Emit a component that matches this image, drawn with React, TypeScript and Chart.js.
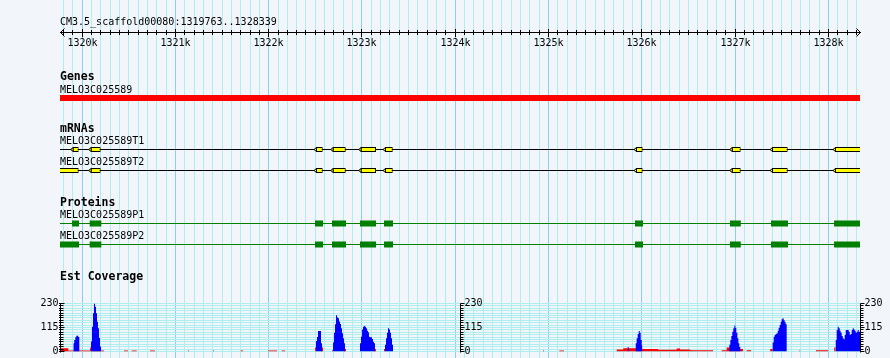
import React, { useEffect, useRef } from 'react';
import { Chart, registerables } from 'chart.js';

Chart.register(...registerables);

// ---------------- data ----------------
const regionStart = 1319763;
const regionEnd = 1328339;
const regionLabel = 'CM3.5_scaffold00080:1319763..1328339';
const rulerStep = 100;
const rulerLabelStep = 1000;

const trackTitles = ['Genes', 'mRNAs', 'Proteins', 'Est Coverage'];

const geneNames = ['MELO3C025589'];
const geneSpan = [1319752, 1328360];

const mrnaNames = ['MELO3C025589T1', 'MELO3C025589T2'];
const mrnaSpan = [1319752, 1328360];
const exonsT1 = [
  [1319899, 1319963], [1320092, 1320199], [1322507, 1322579], [1322686, 1322826],
  [1322986, 1323151], [1323247, 1323330], [1325938, 1326009], [1326964, 1327060],
  [1327396, 1327564], [1328071, 1328360],
];
const exonsT2 = [
  [1319752, 1319963], [1320092, 1320199], [1322507, 1322579], [1322686, 1322826],
  [1322986, 1323151], [1323247, 1323330], [1325938, 1326009], [1326964, 1327060],
  [1327396, 1327564], [1328071, 1328360],
];

const proteinNames = ['MELO3C025589P1', 'MELO3C025589P2'];
const proteinSpan = [1319752, 1328360];
const cdsP1 = [
  [1319892, 1319967], [1320081, 1320206], [1322497, 1322583], [1322679, 1322829],
  [1322979, 1323151], [1323236, 1323333], [1325927, 1326013], [1326945, 1327061],
  [1327385, 1327567], [1328061, 1328350],
];
const cdsP2 = [
  [1319752, 1319967], [1320081, 1320206], [1322497, 1322583], [1322679, 1322829],
  [1322979, 1323151], [1323236, 1323333], [1325927, 1326013], [1326945, 1327061],
  [1327385, 1327567], [1328061, 1328350],
];

const coverageMax = 230;
const coverageStep = 11.5;
const coverageLabelStep = 115;

// [position (bp), coverage] — each value holds until the next position
const estBlue = [
  [1319906, 40], [1319916, 55], [1319927, 68], [1319938, 75], [1319948, 76], [1319959, 70], [1319970, 0],
  [1320095, 48], [1320106, 119], [1320117, 183], [1320127, 230], [1320138, 214], [1320149, 183],
  [1320160, 143], [1320170, 112], [1320181, 65], [1320192, 24], [1320203, 0],
  [1322507, 50], [1322518, 70], [1322529, 98], [1322540, 98], [1322550, 98], [1322561, 40], [1322572, 0],
  [1322690, 43], [1322700, 90], [1322711, 130], [1322722, 174], [1322733, 163], [1322743, 159],
  [1322754, 144], [1322765, 132], [1322775, 111], [1322786, 87], [1322797, 64], [1322808, 40], [1322818, 0],
  [1322979, 40], [1322990, 71], [1323001, 106], [1323011, 119], [1323022, 122], [1323033, 119],
  [1323043, 111], [1323054, 100], [1323065, 92], [1323075, 71], [1323086, 68], [1323097, 68],
  [1323108, 60], [1323118, 47], [1323129, 40], [1323140, 0],
  [1323247, 32], [1323258, 64], [1323268, 90], [1323279, 111], [1323290, 106], [1323301, 90],
  [1323311, 64], [1323322, 32], [1323333, 0],
  [1325849, 21], [1325859, 0],
  [1325935, 40], [1325945, 64], [1325956, 84], [1325967, 98], [1325978, 90], [1325988, 55], [1325999, 30], [1326004, 0],
  [1326938, 32], [1326949, 55], [1326960, 74], [1326970, 95], [1326981, 111], [1326992, 124],
  [1327002, 114], [1327013, 90], [1327024, 64], [1327035, 40], [1327045, 21], [1327056, 0],
  [1327403, 43], [1327414, 71], [1327424, 79], [1327435, 84], [1327446, 88], [1327457, 100],
  [1327467, 114], [1327478, 127], [1327489, 143], [1327499, 154], [1327510, 159], [1327521, 150],
  [1327532, 140], [1327542, 130], [1327553, 0],
  [1328079, 55], [1328089, 103], [1328100, 119], [1328111, 111], [1328122, 100], [1328132, 90],
  [1328143, 74], [1328154, 64], [1328164, 59], [1328175, 79], [1328186, 103], [1328197, 103],
  [1328207, 103], [1328218, 95], [1328229, 79], [1328239, 84], [1328250, 103], [1328261, 111],
  [1328272, 106], [1328282, 100], [1328293, 90], [1328304, 95], [1328314, 103], [1328325, 95], [1328339, 95],
];

const estRed = [
  [1319763, 16], [1319852, 5], [1320085, 19], [1320095, 5], [1320235, 0],
  [1320449, 5], [1320492, 0], [1320532, 5], [1320585, 0], [1320728, 5], [1320781, 0],
  [1321135, 5], [1321146, 0], [1321403, 5], [1321414, 0], [1321700, 5], [1321725, 0],
  [1321993, 5], [1322089, 0], [1322140, 5], [1322175, 0],
  [1322497, 19], [1322507, 0], [1322561, 19], [1322583, 0],
  [1322679, 6], [1322690, 0], [1322808, 12], [1322829, 0],
  [1323129, 12], [1323151, 0], [1323236, 12], [1323247, 0],
  [1324941, 5], [1324952, 0], [1325116, 5], [1325166, 0],
  [1325731, 9], [1325802, 16], [1326002, 12], [1326176, 8], [1326373, 14], [1326410, 9],
  [1326517, 6], [1326763, 0],
  [1326856, 6], [1326910, 19], [1326960, 12], [1327085, 0],
  [1327124, 6], [1327171, 0], [1327377, 12], [1327403, 0],
  [1327688, 5], [1327699, 0], [1327867, 6], [1327999, 0],
  [1328063, 19], [1328079, 0],
];

// ---------------- styles / layout ----------------
const COLORS = {
  bg: '#f2f6fb',
  gridMajor: '#87cefa',
  gridMinor: '#afeeee',
  ink: '#000000',
  gene: '#ff0000',
  exon: '#ffff00',
  cds: '#008000',
  covBlue: '#0000ff',
  covRed: '#ff0000',
};
const FONT = '"DejaVu Sans Mono", "Liberation Mono", monospace';
// band heights (px) from top to bottom
const BAND = { top: 87, genes: 22, gap1: 30, mrna: 42, gap2: 32, prot: 42, gap3: 48.5, cov: 48, bottom: 6.5 };

const spanBars = (name: string, spans: number[][]) => spans.map(([s, e]) => ({ x: [s, e], y: name }));
const toXY = (pairs: number[][]) => pairs.map(([x, y]) => ({ x, y }));

const stacked = (weight: number, stackWeight: number, extra: any = {}) => ({
  axis: 'y', position: 'left', stack: 'tracks', stackWeight, weight, display: false, ...extra,
});

const gbrowsePlugin = {
  id: 'gbrowse',
  beforeDraw(chart: any) {
    const { ctx, width, height } = chart;
    ctx.save();
    ctx.fillStyle = COLORS.bg;
    ctx.fillRect(0, 0, width, height);
    ctx.restore();
  },
  afterDatasetsDraw(chart: any) {
    const { ctx, chartArea } = chart;
    ctx.save();
    ctx.beginPath();
    ctx.rect(chartArea.left, chartArea.top, chartArea.right - chartArea.left, chartArea.bottom - chartArea.top);
    ctx.clip();
    chart.data.datasets.forEach((ds: any, i: number) => {
      if (!ds.notch) return;
      const meta = chart.getDatasetMeta(i);
      meta.data.forEach((el: any) => {
        const { x, base, y } = el.getProps(['x', 'base', 'y'], true);
        const left = Math.min(x, base);
        ctx.beginPath();
        ctx.moveTo(left + 0.5, y - 2);
        ctx.lineTo(left - 2, y);
        ctx.lineTo(left + 0.5, y + 2);
        ctx.closePath();
        ctx.fillStyle = COLORS.exon;
        ctx.fill();
        ctx.strokeStyle = COLORS.ink;
        ctx.lineWidth = 1;
        ctx.stroke();
      });
    });
    ctx.restore();
  },
  afterDraw(chart: any) {
    const { ctx } = chart;
    const xs = chart.scales.x;
    const align = (p: number) => Math.round(p - 0.5) + 0.5;
    ctx.save();
    ctx.fillStyle = COLORS.ink;
    ctx.strokeStyle = COLORS.ink;
    ctx.lineWidth = 1;

    // ruler
    ctx.font = `10px ${FONT}`;
    ctx.textBaseline = 'alphabetic';
    ctx.textAlign = 'left';
    ctx.fillText(regionLabel, xs.left, 25);
    const yL = 32.5;
    ctx.beginPath();
    ctx.moveTo(xs.left, yL);
    ctx.lineTo(xs.right + 1, yL);
    ctx.moveTo(xs.left + 4.5, yL - 4);
    ctx.lineTo(xs.left + 0.5, yL);
    ctx.lineTo(xs.left + 4.5, yL + 4);
    ctx.moveTo(xs.right - 3.5, yL - 4);
    ctx.lineTo(xs.right + 0.5, yL);
    ctx.lineTo(xs.right - 3.5, yL + 4);
    xs.ticks.forEach((t: any) => {
      const px = align(xs.getPixelForValue(t.value));
      const major = t.value % rulerLabelStep === 0;
      ctx.moveTo(px, major ? 29 : 30);
      ctx.lineTo(px, major ? 37 : 35);
    });
    ctx.stroke();
    ctx.textAlign = 'center';
    xs.ticks.forEach((t: any) => {
      if (t.value % rulerLabelStep !== 0) return;
      const px = align(xs.getPixelForValue(t.value));
      ctx.fillText(`${t.value / 1000}k`, px, 46);
    });

    // track titles and feature names
    const groups = [
      { scale: chart.scales.yGenes, title: trackTitles[0], names: geneNames },
      { scale: chart.scales.yMrna, title: trackTitles[1], names: mrnaNames },
      { scale: chart.scales.yProt, title: trackTitles[2], names: proteinNames },
    ];
    ctx.textAlign = 'left';
    groups.forEach(g => {
      ctx.font = `bold 11.5px ${FONT}`;
      ctx.fillText(g.title, xs.left, g.scale.getPixelForValue(0) - 18);
      ctx.font = `10px ${FONT}`;
      g.names.forEach((n, i) => ctx.fillText(n, xs.left, g.scale.getPixelForValue(i) - 5.5));
    });
    const yc = chart.scales.yCov;
    ctx.font = `bold 11.5px ${FONT}`;
    ctx.fillText(trackTitles[3], xs.left, yc.top - 23.5);

    // coverage axes (left, centre, right)
    ctx.font = `10px ${FONT}`;
    ctx.textBaseline = 'middle';
    const axisXs = [xs.left, (xs.left + xs.right) / 2, xs.right];
    axisXs.forEach((ax, k) => {
      const x0 = align(ax);
      ctx.beginPath();
      ctx.moveTo(x0, yc.top);
      ctx.lineTo(x0, yc.bottom + 1);
      yc.ticks.forEach((t: any) => {
        const py = align(yc.getPixelForValue(t.value));
        const major = Math.abs(t.value % coverageLabelStep) < 1e-6;
        ctx.moveTo(x0 - (k === 0 ? 1.5 : 0), py);
        ctx.lineTo(x0 + (major ? 4 : 3), py);
      });
      ctx.stroke();
      yc.ticks.forEach((t: any) => {
        if (Math.abs(t.value % coverageLabelStep) > 1e-6) return;
        const py = yc.getPixelForValue(t.value);
        if (k === 0) {
          ctx.textAlign = 'right';
          ctx.fillText(String(t.value), x0 - 2, py);
        } else {
          ctx.textAlign = 'left';
          ctx.fillText(String(t.value), x0 + 4, py);
        }
      });
    });
    ctx.restore();
  },
};

export default function App() {
  const ref = useRef<HTMLCanvasElement>(null);

  useEffect(() => {
    document.body.style.margin = '0';
    const barBase = {
      type: 'bar', indexAxis: 'y', xAxisID: 'x', grouped: false, inflateAmount: 0, clip: 0,
      borderSkipped: false,
    };
    const covBase = {
      type: 'line', xAxisID: 'x', yAxisID: 'yCov', stepped: 'before', fill: 'origin',
      borderColor: 'rgba(0,0,0,0)', borderWidth: 0, pointRadius: 0, clip: 0,
    };
    const config: any = {
      type: 'bar',
      data: {
        datasets: [
          { ...barBase, label: 'T1 exons', yAxisID: 'yMrna', data: spanBars(mrnaNames[0], exonsT1),
            backgroundColor: COLORS.exon, borderColor: COLORS.ink, borderWidth: 1, barThickness: 5, order: 0, notch: true },
          { ...barBase, label: 'T2 exons', yAxisID: 'yMrna', data: spanBars(mrnaNames[1], exonsT2),
            backgroundColor: COLORS.exon, borderColor: COLORS.ink, borderWidth: 1, barThickness: 5, order: 0, notch: true },
          { ...barBase, label: 'mRNA', yAxisID: 'yMrna', data: mrnaNames.map(n => ({ x: mrnaSpan, y: n })),
            backgroundColor: COLORS.ink, borderWidth: 0, barThickness: 1, order: 5 },
          { ...barBase, label: 'gene', yAxisID: 'yGenes', data: [{ x: geneSpan, y: geneNames[0] }],
            backgroundColor: COLORS.gene, borderWidth: 0, barThickness: 6, order: 0 },
          { ...barBase, label: 'P1 CDS', yAxisID: 'yProt', data: spanBars(proteinNames[0], cdsP1),
            backgroundColor: COLORS.cds, borderWidth: 0, barThickness: 6, order: 0 },
          { ...barBase, label: 'P2 CDS', yAxisID: 'yProt', data: spanBars(proteinNames[1], cdsP2),
            backgroundColor: COLORS.cds, borderWidth: 0, barThickness: 6, order: 0 },
          { ...barBase, label: 'protein', yAxisID: 'yProt', data: proteinNames.map(n => ({ x: proteinSpan, y: n })),
            backgroundColor: COLORS.cds, borderWidth: 0, barThickness: 1, order: 5 },
          { ...covBase, label: 'EST (blue)', data: toXY(estBlue), backgroundColor: COLORS.covBlue, order: 1 },
          { ...covBase, label: 'EST (red)', data: toXY(estRed), backgroundColor: COLORS.covRed, order: 2 },
        ],
      },
      options: {
        responsive: false,
        maintainAspectRatio: false,
        animation: false,
        events: [],
        layout: { padding: { left: 60, right: 30, top: 0, bottom: 0 } },
        plugins: { legend: { display: false }, tooltip: { enabled: false }, title: { display: false } },
        scales: {
          x: {
            type: 'linear', axis: 'x', position: 'bottom', min: regionStart, max: regionEnd,
            offset: false, beginAtZero: false,
            ticks: { display: false, stepSize: rulerStep, includeBounds: false, maxTicksLimit: 1000 },
            grid: {
              offset: false, drawTicks: false, lineWidth: 1,
              color: (c: any) => (c.tick && c.tick.value % rulerLabelStep === 0 ? COLORS.gridMajor : COLORS.gridMinor),
            },
            border: { display: false },
            afterFit: (s: any) => { s.height = 0; },
          },
          ySpacerTop: stacked(9, BAND.top, { type: 'linear' }),
          yGenes: stacked(8, BAND.genes, { type: 'category', labels: geneNames, offset: true, grid: { offset: true } }),
          yGap1: stacked(7, BAND.gap1, { type: 'linear' }),
          yMrna: stacked(6, BAND.mrna, { type: 'category', labels: mrnaNames, offset: true, grid: { offset: true } }),
          yGap2: stacked(5, BAND.gap2, { type: 'linear' }),
          yProt: stacked(4, BAND.prot, { type: 'category', labels: proteinNames, offset: true, grid: { offset: true } }),
          yGap3: stacked(3, BAND.gap3, { type: 'linear' }),
          yCov: stacked(2, BAND.cov, {
            type: 'linear', display: true, min: 0, max: coverageMax, beginAtZero: true,
            ticks: { display: false, stepSize: coverageStep },
            grid: { color: COLORS.gridMinor, drawTicks: false, lineWidth: 1 },
            border: { display: false },
            afterFit: (s: any) => { s.width = 0; },
          }),
          ySpacerBottom: stacked(1, BAND.bottom, { type: 'linear' }),
        },
      },
      plugins: [gbrowsePlugin],
    };
    const chart = new Chart(ref.current as HTMLCanvasElement, config);
    return () => chart.destroy();
  }, []);

  return (
    <div style={{ width: 890, height: 358, overflow: 'hidden' }}>
      <canvas ref={ref} width={890} height={358} style={{ display: 'block' }} />
    </div>
  );
}
